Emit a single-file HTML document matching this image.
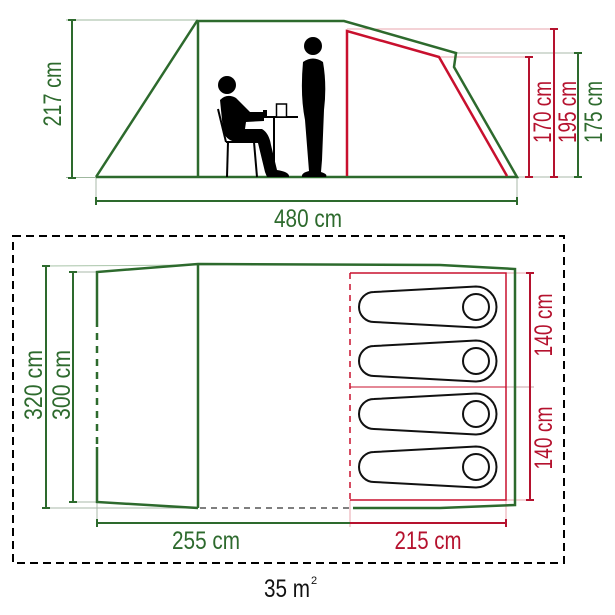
<!DOCTYPE html>
<html><head><meta charset="utf-8"><style>
html,body{margin:0;padding:0;background:#fff;}
svg{display:block;}
text{font-family:"Liberation Sans",sans-serif;font-size:25px;}
</style></head><body>
<svg width="615" height="615" viewBox="0 0 615 615" xmlns="http://www.w3.org/2000/svg">
<g fill="none" stroke-linecap="butt">
<line x1="66" y1="20" x2="198" y2="20" stroke="#9fb89f" stroke-width="1"/>
<line x1="66" y1="177.5" x2="96" y2="177.5" stroke="#9fb89f" stroke-width="1"/>
<line x1="347" y1="29" x2="558" y2="29" stroke="#e8a6ae" stroke-width="1"/>
<line x1="439" y1="57" x2="533" y2="57" stroke="#e8a6ae" stroke-width="1"/>
<line x1="456" y1="53" x2="582" y2="53" stroke="#a8b8a8" stroke-width="1"/>
<line x1="517" y1="177" x2="582" y2="177" stroke="#a8b8a8" stroke-width="1"/>
<line x1="96" y1="178" x2="96" y2="204" stroke="#a8b8a8" stroke-width="1"/>
<line x1="517" y1="178" x2="517" y2="204" stroke="#a8b8a8" stroke-width="1"/>
<g stroke="#2d6a2d" stroke-width="2">
<line x1="72" y1="20" x2="72" y2="178"/>
<line x1="68" y1="20" x2="76" y2="20"/><line x1="68" y1="178" x2="76" y2="178"/>
<line x1="96" y1="201" x2="517" y2="201"/>
<line x1="96" y1="197" x2="96" y2="205"/><line x1="517" y1="197" x2="517" y2="205"/>
<line x1="578" y1="53" x2="578" y2="177"/>
<line x1="574" y1="53" x2="582" y2="53"/><line x1="574" y1="177" x2="582" y2="177"/>
</g>
<g stroke="#b5122e" stroke-width="2">
<line x1="529" y1="57" x2="529" y2="177"/>
<line x1="525" y1="57" x2="533" y2="57"/><line x1="525" y1="177" x2="533" y2="177"/>
<line x1="554" y1="29" x2="554" y2="177"/>
<line x1="550" y1="29" x2="558" y2="29"/><line x1="550" y1="177" x2="558" y2="177"/>
</g>
<polyline points="96,177 197,21 344,21 456,53 454,67 517,177 96,177" stroke="#2d6a2d" stroke-width="2.5" stroke-linejoin="miter"/>
<line x1="198" y1="21" x2="198" y2="177" stroke="#2d6a2d" stroke-width="2.5"/>
<polyline points="347,176 347,31 439,57 507,176" stroke="#c8102e" stroke-width="2.5"/>
</g>
<g fill="#000" stroke="none">
<circle cx="227" cy="85" r="9"/>
<circle cx="313" cy="46" r="9"/>
<path d="M303,62 Q313,55 323,62 Q327,85 324,110 L322,160 L321,172 Q328,174 326,177 L302,177 Q301,173 309,171 L305,120 Q300,95 303,62 Z"/>
<path d="M220,100 Q227,93 236,98 L250,112 L264,112 L264,121 L246,122 L245,129 L262,129 Q269,133 271,145 L277,170 Q290,172 289,177 L267,177 L265,172 L258,143 L236,142 Q225,140 223,130 Z"/>
<rect x="263" y="110" width="4" height="8"/>
<rect x="267" y="116" width="31" height="2"/>
<rect x="273" y="117" width="2" height="60"/>
</g>
<g fill="#fff" stroke="#000" stroke-width="1.5">
<rect x="276.5" y="104" width="10" height="13"/>
</g>
<g stroke="#000" stroke-width="2" fill="none">
<line x1="218" y1="109" x2="226" y2="142"/>
<line x1="226" y1="142" x2="256" y2="142"/>
<line x1="228" y1="142" x2="227" y2="177"/>
<line x1="254" y1="142" x2="257" y2="177"/>
</g>

<rect x="13" y="236" width="551" height="327" fill="none" stroke="#000" stroke-width="2" stroke-dasharray="8,5"/>
<g fill="none">
<line x1="42" y1="266" x2="198" y2="265" stroke="#a8c4a8" stroke-width="1"/>
<line x1="42" y1="508" x2="198" y2="508" stroke="#a8b8a8" stroke-width="1"/>
<line x1="70" y1="272" x2="97" y2="272" stroke="#a8b8a8" stroke-width="1"/>
<line x1="70" y1="502" x2="97" y2="502" stroke="#a8b8a8" stroke-width="1"/>
<line x1="97" y1="502" x2="97" y2="526" stroke="#a8b8a8" stroke-width="1"/>
<line x1="506" y1="500" x2="506" y2="527" stroke="#e8a6ae" stroke-width="1"/>
<line x1="350" y1="500" x2="350" y2="527" stroke="#e8a6ae" stroke-width="1"/>
<line x1="506" y1="273" x2="534" y2="273" stroke="#e8a6ae" stroke-width="1"/>
<line x1="506" y1="387" x2="534" y2="387" stroke="#c9a0a6" stroke-width="1"/>
<line x1="506" y1="500" x2="534" y2="500" stroke="#e8a6ae" stroke-width="1"/>
<g stroke="#2d6a2d" stroke-width="2">
<line x1="46" y1="266" x2="46" y2="508"/>
<line x1="42" y1="266" x2="50" y2="266"/><line x1="42" y1="508" x2="50" y2="508"/>
<line x1="73" y1="272" x2="73" y2="502"/>
<line x1="69" y1="272" x2="77" y2="272"/><line x1="69" y1="502" x2="77" y2="502"/>
<line x1="97" y1="523" x2="350" y2="523"/>
<line x1="97" y1="519" x2="97" y2="527"/>
</g>
<g stroke="#b5122e" stroke-width="2">
<line x1="350" y1="523" x2="506" y2="523"/>
<line x1="506" y1="519" x2="506" y2="527"/>
<line x1="530" y1="273" x2="530" y2="500"/>
<line x1="526" y1="273" x2="534" y2="273"/><line x1="526" y1="500" x2="534" y2="500"/>
</g>
<g stroke="#2d6a2d" stroke-width="2.5">
<polyline points="97,320 97,272 198,264 440,265 515,269 515,505 440,508 353,508"/>
<polyline points="97,447 97,502 198,508"/>
<line x1="97" y1="320" x2="97" y2="447" stroke-dasharray="7,6"/>
<line x1="198" y1="264" x2="198" y2="508"/>
</g>
<line x1="200" y1="508" x2="350" y2="508" stroke="#333" stroke-width="1.2" stroke-dasharray="6,5"/>
<g stroke="#c8102e" stroke-width="1.5">
<polyline points="350,273 506,273 506,500 350,500"/>
<line x1="350" y1="387" x2="506" y2="387" stroke-width="1"/>
<line x1="350" y1="273" x2="350" y2="500" stroke-dasharray="6,5"/>
</g>
<g stroke="#111" stroke-width="2">
<path d="M374,292 L476,286.5 A20.5,20.5 0 0 1 476,327.5 L374,322 A15,15 0 0 1 374,292 Z"/>
<circle cx="476" cy="307" r="13"/>
<path d="M374,346 L476,340.5 A20.5,20.5 0 0 1 476,381.5 L374,376 A15,15 0 0 1 374,346 Z"/>
<circle cx="476" cy="361" r="13"/>
<path d="M374,399 L476,393.5 A20.5,20.5 0 0 1 476,434.5 L374,429 A15,15 0 0 1 374,399 Z"/>
<circle cx="476" cy="414" r="13"/>
<path d="M374,452 L476,446.5 A20.5,20.5 0 0 1 476,487.5 L374,482 A15,15 0 0 1 374,452 Z"/>
<circle cx="476" cy="467" r="13"/>
</g>
</g>

<g fill="#2d6a2d">
<text transform="translate(61,94) rotate(-90)" text-anchor="middle" textLength="65" lengthAdjust="spacingAndGlyphs">217 cm</text>
<text x="308" y="227" text-anchor="middle" textLength="68" lengthAdjust="spacingAndGlyphs">480 cm</text>
<text transform="translate(602,112) rotate(-90)" text-anchor="middle" textLength="62" lengthAdjust="spacingAndGlyphs">175 cm</text>
<text transform="translate(42,385) rotate(-90)" text-anchor="middle" textLength="70" lengthAdjust="spacingAndGlyphs">320 cm</text>
<text transform="translate(70,385) rotate(-90)" text-anchor="middle" textLength="70" lengthAdjust="spacingAndGlyphs">300 cm</text>
<text x="206" y="549" text-anchor="middle" textLength="68" lengthAdjust="spacingAndGlyphs">255 cm</text>
</g>
<g fill="#b5122e">
<text transform="translate(551,112) rotate(-90)" text-anchor="middle" textLength="62" lengthAdjust="spacingAndGlyphs">170 cm</text>
<text transform="translate(576,112) rotate(-90)" text-anchor="middle" textLength="62" lengthAdjust="spacingAndGlyphs">195 cm</text>
<text transform="translate(552,325) rotate(-90)" text-anchor="middle" textLength="63" lengthAdjust="spacingAndGlyphs">140 cm</text>
<text transform="translate(552,438) rotate(-90)" text-anchor="middle" textLength="63" lengthAdjust="spacingAndGlyphs">140 cm</text>
<text x="428" y="549" text-anchor="middle" textLength="67" lengthAdjust="spacingAndGlyphs">215 cm</text>
</g>
<text x="264" y="597" fill="#111" textLength="46" lengthAdjust="spacingAndGlyphs">35 m</text>
<text x="311" y="584" fill="#111" style="font-size:11px">2</text>
</svg>
</body></html>
